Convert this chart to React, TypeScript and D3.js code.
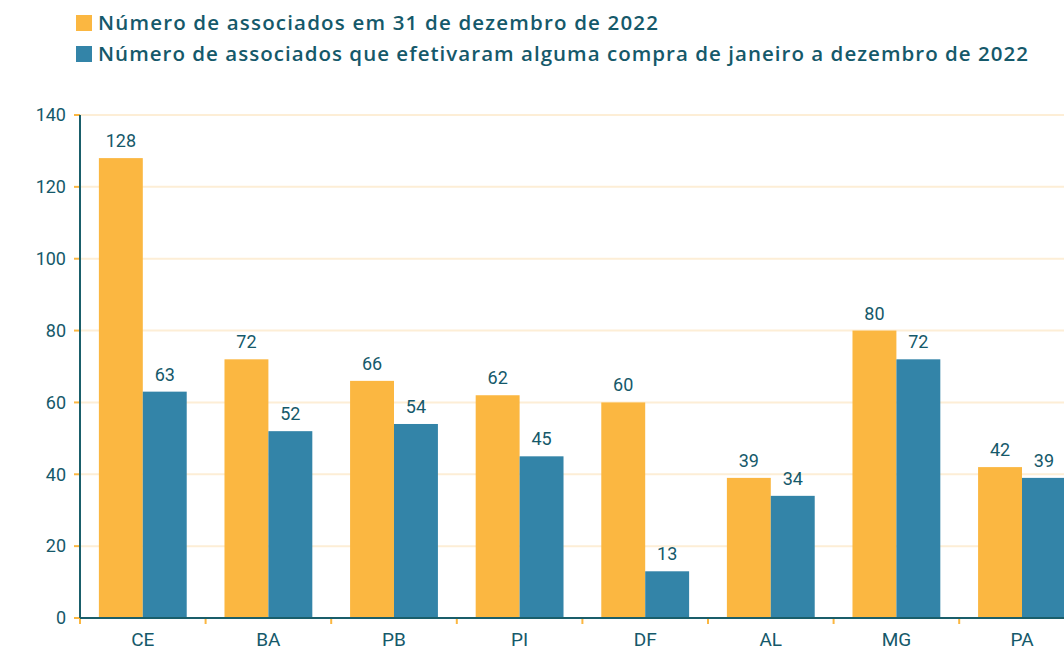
import React, { useRef, useEffect } from "react";
import * as d3 from "d3";

const estados = ["CE", "BA", "PB", "PI", "DF", "AL", "MG", "PA"];
const associados = [128, 72, 66, 62, 60, 39, 80, 42];
const compradores = [63, 52, 54, 45, 13, 34, 72, 39];
const series = ["Número de associados em 31 de dezembro de 2022", "Número de associados que efetivaram alguma compra de janeiro a dezembro de 2022"];
const legendLen = [560, 930];
const cores = ["#fbb741", "#3384a8"];
const yTicks = [0, 20, 40, 60, 80, 100, 120, 140];

const W = 1064, H = 654;
const TEXT = "#15596a";

function App() {
  const ref = useRef<SVGSVGElement>(null);

  useEffect(() => {
    const svg = d3.select(ref.current);
    svg.selectAll("*").remove();

    const left = 80, bottom = 618, top = 115;
    const x = d3.scaleBand().domain(estados).range([left, left + 8 * 125.6]);
    const y = d3.scaleLinear().domain([0, 140]).range([bottom, top]);
    const sub = d3.scaleBand().domain(["a", "b"]).range([0, x.step()]).paddingOuter(0.43);

    // grid
    svg.append("g").selectAll("line").data(yTicks.slice(1)).enter().append("line")
      .attr("x1", left).attr("x2", W).attr("y1", d => y(d)).attr("y2", d => y(d))
      .attr("stroke", "#fdeed6").attr("stroke-width", 2);

    // y tick marks + labels
    const yg = svg.append("g");
    yg.selectAll("line").data(yTicks).enter().append("line")
      .attr("x1", left - 6).attr("x2", left).attr("y1", d => y(d)).attr("y2", d => y(d))
      .attr("stroke", "#fbb741").attr("stroke-width", 2);
    yg.selectAll("text").data(yTicks).enter().append("text")
      .attr("x", 66).attr("y", d => y(d)).attr("dy", "0.35em")
      .attr("text-anchor", "end").attr("fill", TEXT)
      .style("font-family", "Roboto").style("font-size", "18px")
      .text(d => d);

    const data = estados.map((e, i) => ({ e, vals: [associados[i], compradores[i]] }));
    const groups = svg.append("g").selectAll("g").data(data).enter().append("g")
      .attr("transform", d => `translate(${x(d.e)},0)`);
    ["a", "b"].forEach((k, si) => {
      groups.append("rect")
        .attr("x", sub(k)!).attr("width", sub.bandwidth())
        .attr("y", d => y(d.vals[si])).attr("height", d => bottom - y(d.vals[si]))
        .attr("fill", cores[si]);
      groups.append("text")
        .attr("x", sub(k)! + sub.bandwidth() / 2).attr("y", d => y(d.vals[si]) - 11)
        .attr("text-anchor", "middle").attr("fill", TEXT)
        .style("font-family", "Roboto").style("font-size", "18px")
        .text(d => d.vals[si]);
    });

    // x tick marks
    svg.append("g").selectAll("line").data(d3.range(0, 9)).enter().append("line")
      .attr("x1", i => left + i * x.step()).attr("x2", i => left + i * x.step())
      .attr("y1", bottom).attr("y2", bottom + 6)
      .attr("stroke", "#fbb741").attr("stroke-width", 2);

    // axes lines
    svg.append("line").attr("x1", left).attr("x2", left).attr("y1", top).attr("y2", bottom)
      .attr("stroke", "#1a5e6a").attr("stroke-width", 2);
    svg.append("line").attr("x1", left).attr("x2", W).attr("y1", bottom).attr("y2", bottom)
      .attr("stroke", "#1a5e6a").attr("stroke-width", 2);

    // x labels
    svg.append("g").selectAll("text").data(estados).enter().append("text")
      .attr("x", d => x(d)! + x.bandwidth() / 2).attr("y", 646)
      .attr("text-anchor", "middle").attr("fill", TEXT)
      .style("font-family", "Roboto").style("font-size", "19px")
      .text(d => d);

    // legend
    const lg = svg.append("g").selectAll("g").data(series).enter().append("g")
      .attr("transform", (d, i) => `translate(76,${15 + i * 31})`);
    lg.append("rect").attr("width", 16).attr("height", 16).attr("fill", (d, i) => cores[i]);
    lg.append("text").attr("x", 22).attr("y", 8).attr("dy", "0.36em")
      .attr("fill", TEXT)
      .attr("textLength", (d, i) => legendLen[i]).attr("lengthAdjust", "spacing")
      .style("font-family", "Open Sans").style("font-size", "20.5px").style("font-weight", 600)
      .text(d => d);
  }, []);

  return (
    <svg ref={ref} width={W} height={H}
      style={{ position: "absolute", left: 0, top: 0, background: "#fff" }} />
  );
}

export default App;
